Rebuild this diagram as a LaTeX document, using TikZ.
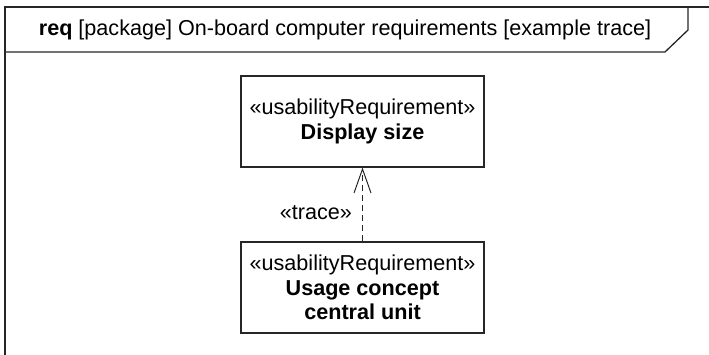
\documentclass[tikz,border=0pt]{standalone}
\usepackage{fontspec}
\setmainfont{Liberation Sans}
\usetikzlibrary{arrows.meta}
\begin{document}
\begin{tikzpicture}[x=1pt,y=-1pt,
  frameline/.style={draw=black!85,line width=1.3pt},
  reqbox/.style={draw=black!85,line width=1.1pt,minimum width=243pt,minimum height=91pt,
    align=center,inner sep=0pt,font=\fontsize{21.6}{24.5}\selectfont},
  tracearrow/.style={draw=black!85,line width=1pt,dash pattern=on 6pt off 4pt,
    -{Straight Barb[length=24pt,width=17pt,line width=1pt]}},
  lbl/.style={font=\fontsize{21.6}{24}\selectfont,inner sep=0pt}]
\useasboundingbox (0,0) rectangle (709,355);
% frame
\draw[frameline] (5,355) -- (5,7) -- (712,7);
\draw[frameline] (688,7) -- (688,30) -- (665,52) -- (5,52);
\node[lbl] (title) at (345,30) {\textbf{req} [package] On-board computer requirements [example trace]};
% boxes
\node[reqbox] (disp) at (362.5,121.5) {«usabilityRequirement»\\\textbf{Display size}};
\node[reqbox] (usage) at (362.5,287.5) {«usabilityRequirement»\\\textbf{Usage concept}\\\textbf{central unit}};
\draw[tracearrow] (usage.north) -- (disp.south)
  node[lbl,pos=0.39,left=10pt] (tr) {«trace»};
\end{tikzpicture}
\end{document}
